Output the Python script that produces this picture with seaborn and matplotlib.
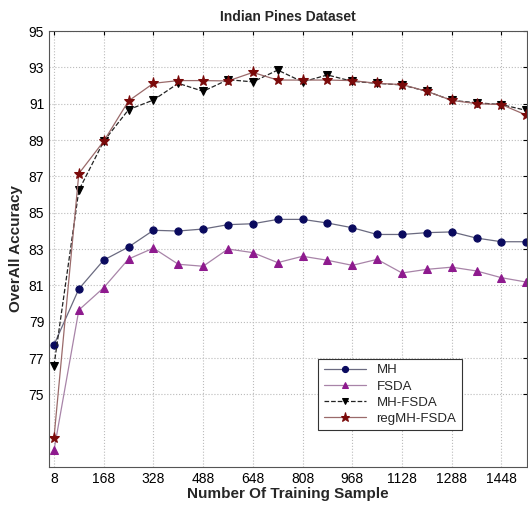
import matplotlib
matplotlib.use("Agg")
import matplotlib.pyplot as plt
import seaborn as sns
import numpy as np

samples = [8, 88, 168, 248, 328, 408, 488, 568, 648, 728, 808, 888, 968,
           1048, 1128, 1208, 1288, 1368, 1448, 1528]
mh = [77.72, 80.8, 82.39, 83.11, 84.03, 83.99, 84.1, 84.34, 84.39, 84.63,
      84.63, 84.43, 84.17, 83.8, 83.8, 83.9, 83.94, 83.6, 83.4, 83.4]
fsda = [71.92, 79.64, 80.87, 82.45, 83.05, 82.16, 82.05, 83.0, 82.8, 82.25,
        82.6, 82.38, 82.1, 82.43, 81.68, 81.88, 82.0, 81.79, 81.42, 81.18]
mh_fsda = [76.58, 86.23, 88.93, 90.67, 91.2, 92.12, 91.68, 92.32, 92.2, 92.85,
           92.2, 92.58, 92.23, 92.12, 92.03, 91.68, 91.18, 91.05, 90.95, 90.63]
reg_mh_fsda = [72.6, 87.15, 88.93, 91.15, 92.12, 92.27, 92.27, 92.25, 92.72, 92.3,
               92.3, 92.3, 92.27, 92.12, 92.05, 91.68, 91.18, 91.0, 90.95, 90.37]
series_names = ["MH", "FSDA", "MH-FSDA", "regMH-FSDA"]
xtick_vals = [8, 168, 328, 488, 648, 808, 968, 1128, 1288, 1448]
ytick_vals = [75, 77, 79, 81, 83, 85, 87, 89, 91, 93, 95]

sns.set_style("white")
plt.rcParams['font.family'] = ['Liberation Sans', 'DejaVu Sans']

fig = plt.figure(figsize=(5.28, 5.05), dpi=100)
ax = fig.add_axes([49/528, 1-467/505, 1-49/528-0.002, (467-31)/505])

styles = [
    dict(y=mh, color="#6a6a80", marker="o", mfc="#0a0a5e", mec="#0a0a5e", ls="-", ms=5.2),
    dict(y=fsda, color="#a884a8", marker="^", mfc="#8e1a8e", mec="#8e1a8e", ls="-", ms=5.2),
    dict(y=mh_fsda, color="#222222", marker="v", mfc="#000000", mec="#000000", ls="--", ms=5.2),
    dict(y=reg_mh_fsda, color="#9a6a6a", marker="*", mfc="#7a0a0a", mec="#7a0a0a", ls="-", ms=8),
]
for name, st in zip(series_names, styles):
    sns.lineplot(x=samples, y=st["y"], ax=ax, color=st["color"], marker=st["marker"],
                 markerfacecolor=st["mfc"], markeredgecolor=st["mec"], markersize=st["ms"],
                 linestyle=st["ls"], linewidth=0.9, label=name, clip_on=True)

ax.set_xlim(-8, 1530)
ax.set_ylim(71, 95)
ax.set_xticks(xtick_vals)
ax.set_yticks(ytick_vals)
ax.tick_params(axis="both", labelsize=10, direction="in", length=3, colors="#000000",
               top=True, right=True)
ax.grid(True, linestyle=":", color="#bbbbbb", linewidth=0.8)
for sp in ax.spines.values():
    sp.set_color("#555555")
    sp.set_linewidth(0.8)

ax.set_title("Indian Pines Dataset", fontsize=10, fontweight="bold", pad=7)
ax.set_xlabel("Number Of Training Sample", fontsize=11, fontweight="bold", labelpad=1)
ax.set_ylabel("OverAll Accuracy", fontsize=11, fontweight="bold", labelpad=4)

leg = ax.legend(loc="upper left", bbox_to_anchor=(0.55, 0.263), fontsize=9.5,
                frameon=True, fancybox=False, edgecolor="#333333", framealpha=1,
                handlelength=3.2, borderpad=0.4, labelspacing=0.3, markerscale=0.85)
leg.get_frame().set_linewidth(0.8)

fig.savefig("out.png", dpi=100)
